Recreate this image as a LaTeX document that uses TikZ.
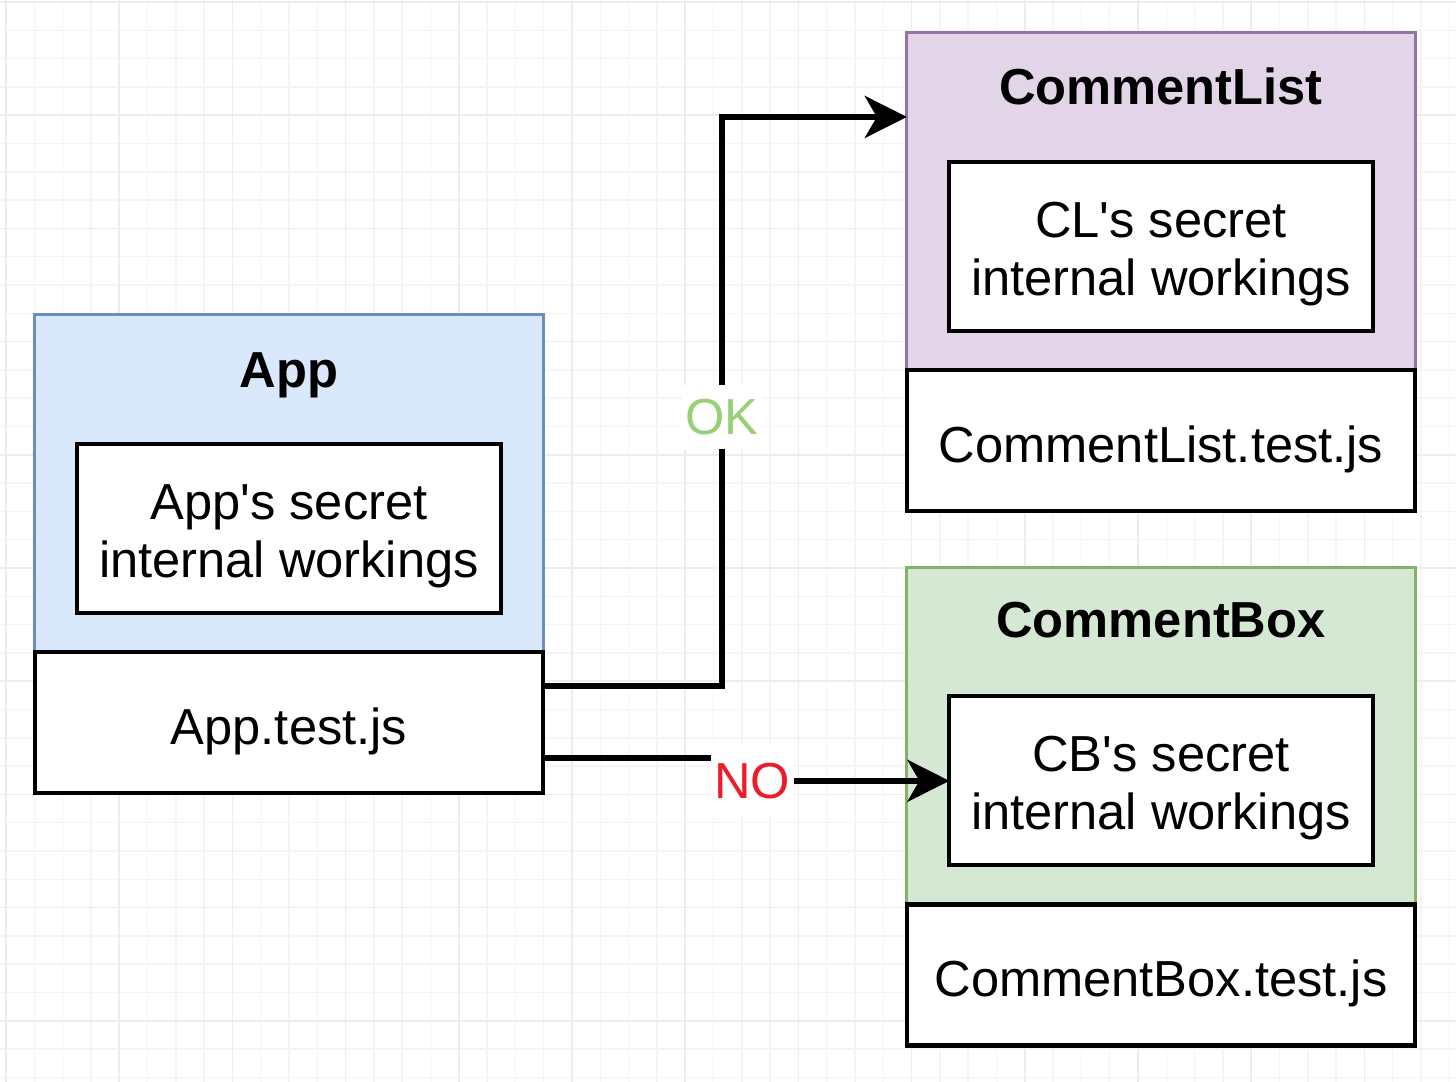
\documentclass[tikz,border=0pt]{standalone}
\usepackage{fontspec}
\setmainfont{Liberation Sans}[Ligatures=TeXOff]
\usepackage{tikz}
\usetikzlibrary{positioning, arrows.meta}
\definecolor{appfill}{HTML}{DAE8FC}
\definecolor{appline}{HTML}{6C8EBF}
\definecolor{clfill}{HTML}{E1D5E7}
\definecolor{clline}{HTML}{9673A6}
\definecolor{cbfill}{HTML}{D5E8D4}
\definecolor{cbline}{HTML}{82B366}
\definecolor{okgreen}{HTML}{97D077}
\definecolor{nored}{HTML}{EE1C2A}
\tikzstyle{txt} = [font=\fontsize{14.4pt}{16.5pt}\selectfont]
\tikzstyle{part} = [rectangle, minimum width=5.08cm, minimum height=3.37cm, outer sep=0pt, line width=0.9pt]
\tikzstyle{apart} = [part, draw=appline, fill=appfill]
\tikzstyle{clpart} = [part, draw=clline, fill=clfill]
\tikzstyle{cbpart} = [part, draw=cbline, fill=cbfill]
\tikzstyle{testbox} = [txt, rectangle, minimum width=5.08cm, minimum height=1.41cm, outer sep=0pt, text height=15.4pt, text depth=3pt, text centered, draw=black, fill=white, line width=1.2pt]
\tikzstyle{innerbox} = [txt, rectangle, minimum width=4.23cm, minimum height=1.69cm, outer sep=0pt, text height=30.8pt, text depth=3pt, align=center, draw=black, fill=white, line width=1.2pt]
\tikzstyle{title} = [txt, font=\fontsize{14.4pt}{16.5pt}\selectfont\bfseries, anchor=base]
\tikzstyle{oklabel} = [txt, text=okgreen, fill=white, inner xsep=1pt, inner ysep=4pt]
\tikzstyle{nolabel} = [txt, text=nored, fill=white, inner xsep=1pt, inner ysep=5pt]
\tikzstyle{arrow} = [line width=1.7pt, -{Stealth[length=4.2mm, width=4.2mm, inset=1.2mm]}]
\tikzstyle{minorgrid} = [draw=black!4, line width=0.4pt]
\tikzstyle{majorgrid} = [draw=black!7, line width=0.4pt]

\begin{document}
\begin{tikzpicture}[x=0.01cm, y=-0.01cm]

\useasboundingbox (0,0) rectangle (1456,1082);
\fill[white] (0,0) rectangle (1456,1082);

% background grid
\foreach \gx in {6,34.3,...,1456} \draw[minorgrid] (\gx,0) -- (\gx,1082);
\foreach \gy in {2,30.3,...,1082} \draw[minorgrid] (0,\gy) -- (1456,\gy);
\foreach \gx in {6,119.2,...,1456} \draw[majorgrid] (\gx,0) -- (\gx,1082);
\foreach \gy in {2,115.2,...,1082} \draw[majorgrid] (0,\gy) -- (1456,\gy);

% App
\node (appbox) [apart] at (289,483.5) {};
\node (apptest) [testbox, below=0pt of appbox] {App.test.js};
\node (apptitle) [title] at ([yshift=-7.3mm]appbox.north) {App};
\node (appinner) [innerbox] at ([yshift=-4.5mm]appbox.center) {App's secret\\internal workings};

% CommentList
\node (clbox) [clpart] at (1161,201.5) {};
\node (cltest) [testbox, below=0pt of clbox] {CommentList.test.js};
\node (cltitle) [title] at ([yshift=-7.2mm]clbox.north) {CommentList};
\node (clinner) [innerbox] at ([yshift=-4.5mm]clbox.center) {CL's secret\\internal workings};

% CommentBox
\node (cbbox) [cbpart, below=5.6mm of cltest] {};
\node (cbtest) [testbox, below=0pt of cbbox] {CommentBox.test.js};
\node (cbtitle) [title] at ([yshift=-7.0mm]cbbox.north) {CommentBox};
\node (cbinner) [innerbox] at ([yshift=-4.5mm]cbbox.center) {CB's secret\\internal workings};

\draw [arrow] ([yshift=3.65mm]apptest.east) -- ++(179,0) |- node[oklabel, pos=0.236] {OK} ([yshift=8.45mm]clbox.west);
\draw [arrow] ([yshift=-3.55mm]apptest.east) -- ++(209,0) |- node[nolabel] {NO} (cbinner.west);

\end{tikzpicture}
\end{document}
